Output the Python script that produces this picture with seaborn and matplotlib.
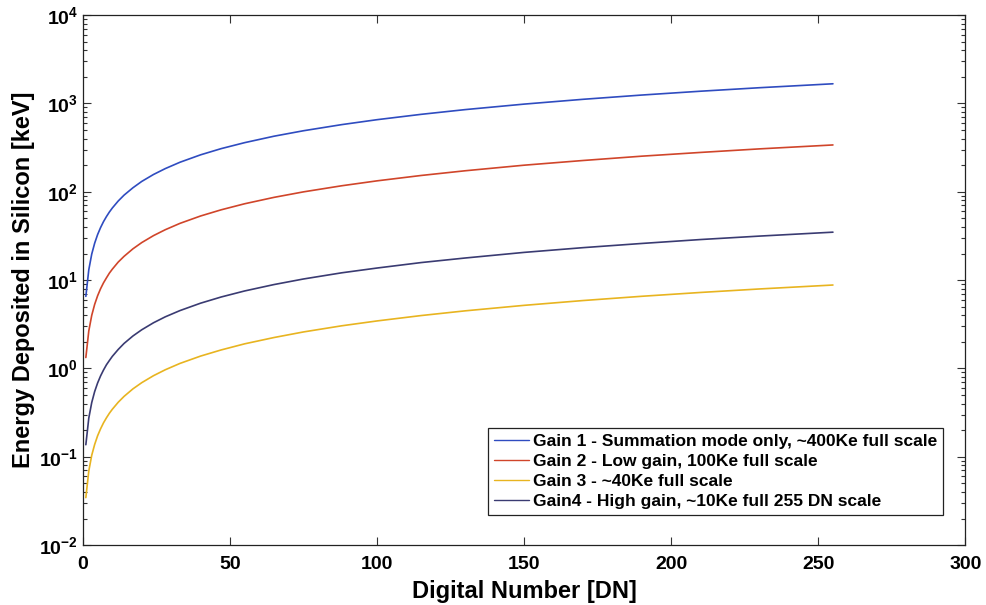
import numpy as np
import pandas as pd
import matplotlib
matplotlib.use("Agg")
import matplotlib.pyplot as plt
import seaborn as sns
from matplotlib.ticker import LogLocator, FixedLocator, FuncFormatter

# ---- data ----
dn = [1, 2, 3, 4, 5, 6, 7, 8, 9, 10, 12, 14, 17, 20, 24, 28, 33, 40, 47, 55, 65, 75,
      88, 100, 115, 130, 150, 170, 190, 210, 230, 255]
gain1 = [6.55, 13.1, 19.7, 26.2, 32.8, 39.3, 45.9, 52.4, 59.0, 65.5, 78.6, 91.7, 111, 131,
         157, 183, 216, 262, 308, 360, 426, 491, 576, 655, 753, 852, 983, 1114, 1245, 1376,
         1507, 1670]
gain2 = [1.33, 2.66, 3.99, 5.32, 6.65, 7.98, 9.31, 10.6, 12.0, 13.3, 16.0, 18.6, 22.6, 26.6,
         31.9, 37.2, 43.9, 53.2, 62.5, 73.2, 86.5, 99.8, 117, 133, 153, 173, 200, 226, 253,
         279, 306, 339]
gain3 = [0.0345, 0.069, 0.104, 0.138, 0.173, 0.207, 0.242, 0.276, 0.311, 0.345, 0.414, 0.483,
         0.587, 0.690, 0.828, 0.966, 1.14, 1.38, 1.62, 1.90, 2.24, 2.59, 3.04, 3.45, 3.97,
         4.49, 5.18, 5.87, 6.56, 7.25, 7.94, 8.80]
gain4 = [0.137, 0.274, 0.411, 0.548, 0.685, 0.822, 0.959, 1.10, 1.23, 1.37, 1.64, 1.92, 2.33,
         2.74, 3.29, 3.84, 4.52, 5.48, 6.44, 7.54, 8.91, 10.3, 12.1, 13.7, 15.8, 17.8, 20.6,
         23.3, 26.0, 28.8, 31.5, 34.9]

labels = [
    "Gain 1 - Summation mode only, ~400Ke full scale",
    "Gain 2 - Low gain, 100Ke full scale",
    "Gain 3 - ~40Ke full scale",
    "Gain4 - High gain, ~10Ke full 255 DN scale",
]
x_ticks = [0, 50, 100, 150, 200, 250, 300]

series = [gain1, gain2, gain3, gain4]
df = pd.concat(
    [pd.DataFrame({"DN": dn, "E": s, "Series": lab}) for s, lab in zip(series, labels)],
    ignore_index=True,
)

colors = ["#2f4cc0", "#d0452a", "#e8b420", "#3a3b72"]
palette = dict(zip(labels, colors))

sns.set_style("ticks")
plt.rcParams["font.family"] = ["Liberation Sans", "DejaVu Sans"]
plt.rcParams["font.weight"] = "bold"
plt.rcParams["text.color"] = "black"
plt.rcParams["axes.labelcolor"] = "black"
plt.rcParams["xtick.color"] = "black"
plt.rcParams["ytick.color"] = "black"
plt.rcParams["mathtext.fontset"] = "custom"
plt.rcParams["mathtext.rm"] = "Liberation Sans:bold"
plt.rcParams["mathtext.bf"] = "Liberation Sans:bold"
plt.rcParams["mathtext.default"] = "bf"

fig = plt.figure(figsize=(9.87, 6.05), dpi=100)
ax = fig.add_axes([0.084, 0.099, 0.894, 0.876])

sns.lineplot(data=df, x="DN", y="E", hue="Series", palette=palette,
             hue_order=labels, ax=ax, linewidth=1.2, legend=True)

ax.set_yscale("log")
ax.set_xlim(0, 300)
ax.set_ylim(1e-2, 1e4)
ax.xaxis.set_major_locator(FixedLocator(x_ticks))
ax.yaxis.set_major_locator(LogLocator(base=10, numticks=10))
ax.yaxis.set_minor_locator(LogLocator(base=10, subs=np.arange(2, 10), numticks=20))
ax.yaxis.set_major_formatter(FuncFormatter(lambda v, p: r"$10^{%d}$" % round(np.log10(v))))

ax.tick_params(axis="both", which="both", direction="in", top=True, right=True,
               labelsize=14, width=0.8, color="#333333", labelcolor="black")
ax.tick_params(axis="both", which="major", length=6)
ax.tick_params(axis="y", which="minor", length=3)
ax.tick_params(axis="x", which="major", pad=8)
for lab in ax.get_xticklabels() + ax.get_yticklabels():
    lab.set_fontweight("bold")

for sp in ax.spines.values():
    sp.set_visible(True)
    sp.set_linewidth(0.9)
    sp.set_color("#222222")

ax.set_xlabel("Digital Number [DN]", fontsize=17, fontweight="bold", labelpad=5, color="black")
ax.set_ylabel("Energy Deposited in Silicon [keV]", fontsize=17, fontweight="bold",
              labelpad=3, color="black")

leg = ax.legend(loc="lower right", bbox_to_anchor=(0.975, 0.056), fontsize=12.5,
                frameon=True, fancybox=False, edgecolor="#222222", framealpha=1,
                handlelength=2.0, handletextpad=0.25, borderpad=0.35, labelspacing=0.28,
                borderaxespad=0)
leg.get_frame().set_linewidth(0.9)
for t in leg.get_texts():
    t.set_fontweight("bold")
    t.set_color("black")
for h in leg.get_lines():
    h.set_linewidth(1.0)

fig.savefig("out.png", dpi=100)
